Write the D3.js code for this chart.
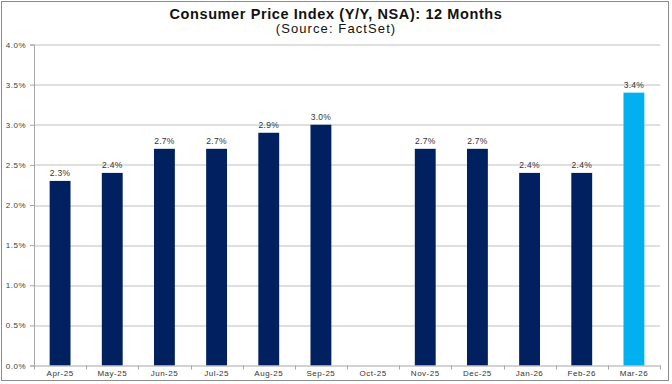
<!DOCTYPE html>
<html>
<head>
<meta charset="utf-8">
<script src="https://cdn.jsdelivr.net/npm/d3@7"></script>
<style>
  body { margin: 0; background: #fff; }
  svg { display: block; font-family: "Liberation Sans", Arial, sans-serif; }
</style>
</head>
<body>
<div id="chart"></div>
<script>
// data
var months = ["Apr-25", "May-25", "Jun-25", "Jul-25", "Aug-25", "Sep-25", "Oct-25", "Nov-25", "Dec-25", "Jan-26", "Feb-26", "Mar-26"];
var cpi = [2.3, 2.4, 2.7, 2.7, 2.9, 3.0, null, 2.7, 2.7, 2.4, 2.4, 3.4];
var yTicks = [0, 0.5, 1.0, 1.5, 2.0, 2.5, 3.0, 3.5, 4.0];

var W = 672, H = 384;
var margin = {top: 44.5, right: 12, bottom: 18.5, left: 34};
var width = W - margin.left - margin.right,
    height = H - margin.top - margin.bottom;

var root = d3.select("#chart").append("svg").attr("width", W).attr("height", H);

// outer frame
root.append("rect").attr("x", 1.5).attr("y", 1.5).attr("width", 667).attr("height", 379)
  .attr("fill", "none").attr("stroke", "#8c8c8c").attr("stroke-width", 1);

root.append("text").attr("x", 336).attr("y", 18.5).attr("text-anchor", "middle")
  .attr("font-size", 14.5).attr("font-weight", "bold").attr("fill", "#111")
  .attr("letter-spacing", 0.6)
  .text("Consumer Price Index (Y/Y, NSA): 12 Months");
root.append("text").attr("x", 336).attr("y", 33).attr("text-anchor", "middle")
  .attr("font-size", 13).attr("fill", "#111").attr("letter-spacing", 1.1)
  .text("(Source: FactSet)");

var svg = root.append("g").attr("transform", "translate(" + margin.left + "," + margin.top + ")");

var x = d3.scaleBand().domain(months).range([0, width]).paddingInner(0.6).paddingOuter(0.3);
var y = d3.scaleLinear().domain([0, 4]).range([height, 0]);

// gridlines
svg.append("g").selectAll("line").data(yTicks.slice(1)).enter().append("line")
  .attr("x1", 0).attr("x2", width)
  .attr("y1", function (d) { return Math.round(y(d)) + 0.5; })
  .attr("y2", function (d) { return Math.round(y(d)) + 0.5; })
  .attr("stroke", "#bfbfbf").attr("stroke-width", 1);

// y axis
var yAxis = d3.axisLeft(y).tickValues(yTicks).tickSize(4).tickPadding(4)
  .tickFormat(function (d) { return d.toFixed(1) + "%"; });
var gy = svg.append("g").call(yAxis);
gy.select(".domain").attr("stroke", "#a6a6a6");
gy.selectAll(".tick line").attr("stroke", "#a6a6a6");
gy.selectAll("text").attr("font-size", 8).attr("fill", "#404040").attr("letter-spacing", 0.5)
  .attr("font-family", "Liberation Sans, Arial, sans-serif");

// bars
var bars = months.map(function (m, i) { return {month: m, value: cpi[i], last: i === months.length - 1}; })
  .filter(function (d) { return d.value !== null; });

svg.selectAll(".bar").data(bars).enter().append("rect").attr("class", "bar")
  .attr("x", function (d) { return x(d.month); })
  .attr("width", x.bandwidth())
  .attr("y", function (d) { return y(d.value); })
  .attr("height", function (d) { return y(0) - y(d.value); })
  .attr("fill", function (d) { return d.last ? "#00b0f0" : "#002060"; });

svg.selectAll(".lbl").data(bars).enter().append("text").attr("class", "lbl")
  .attr("x", function (d) { return x(d.month) + x.bandwidth() / 2; })
  .attr("y", function (d) { return y(d.value) - 4.5; })
  .attr("text-anchor", "middle").attr("font-size", 8.5).attr("fill", "#333").attr("letter-spacing", 0.3)
  .text(function (d) { return d.value.toFixed(1) + "%"; });

// x axis
var gx = svg.append("g").attr("transform", "translate(0," + height + ")")
  .call(d3.axisBottom(x).tickSize(0).tickPadding(5));
gx.select(".domain").attr("stroke", "#a6a6a6");
gx.selectAll("text").attr("font-size", 8).attr("fill", "#333").attr("letter-spacing", 0.5)
  .attr("font-family", "Liberation Sans, Arial, sans-serif");

// category separators on x axis
gx.append("g").selectAll("line").data(d3.range(months.length + 1)).enter().append("line")
  .attr("x1", function (i) { return Math.round(i * width / months.length) + 0.5; })
  .attr("x2", function (i) { return Math.round(i * width / months.length) + 0.5; })
  .attr("y1", 0).attr("y2", 4).attr("stroke", "#a6a6a6");
</script>
</body>
</html>
